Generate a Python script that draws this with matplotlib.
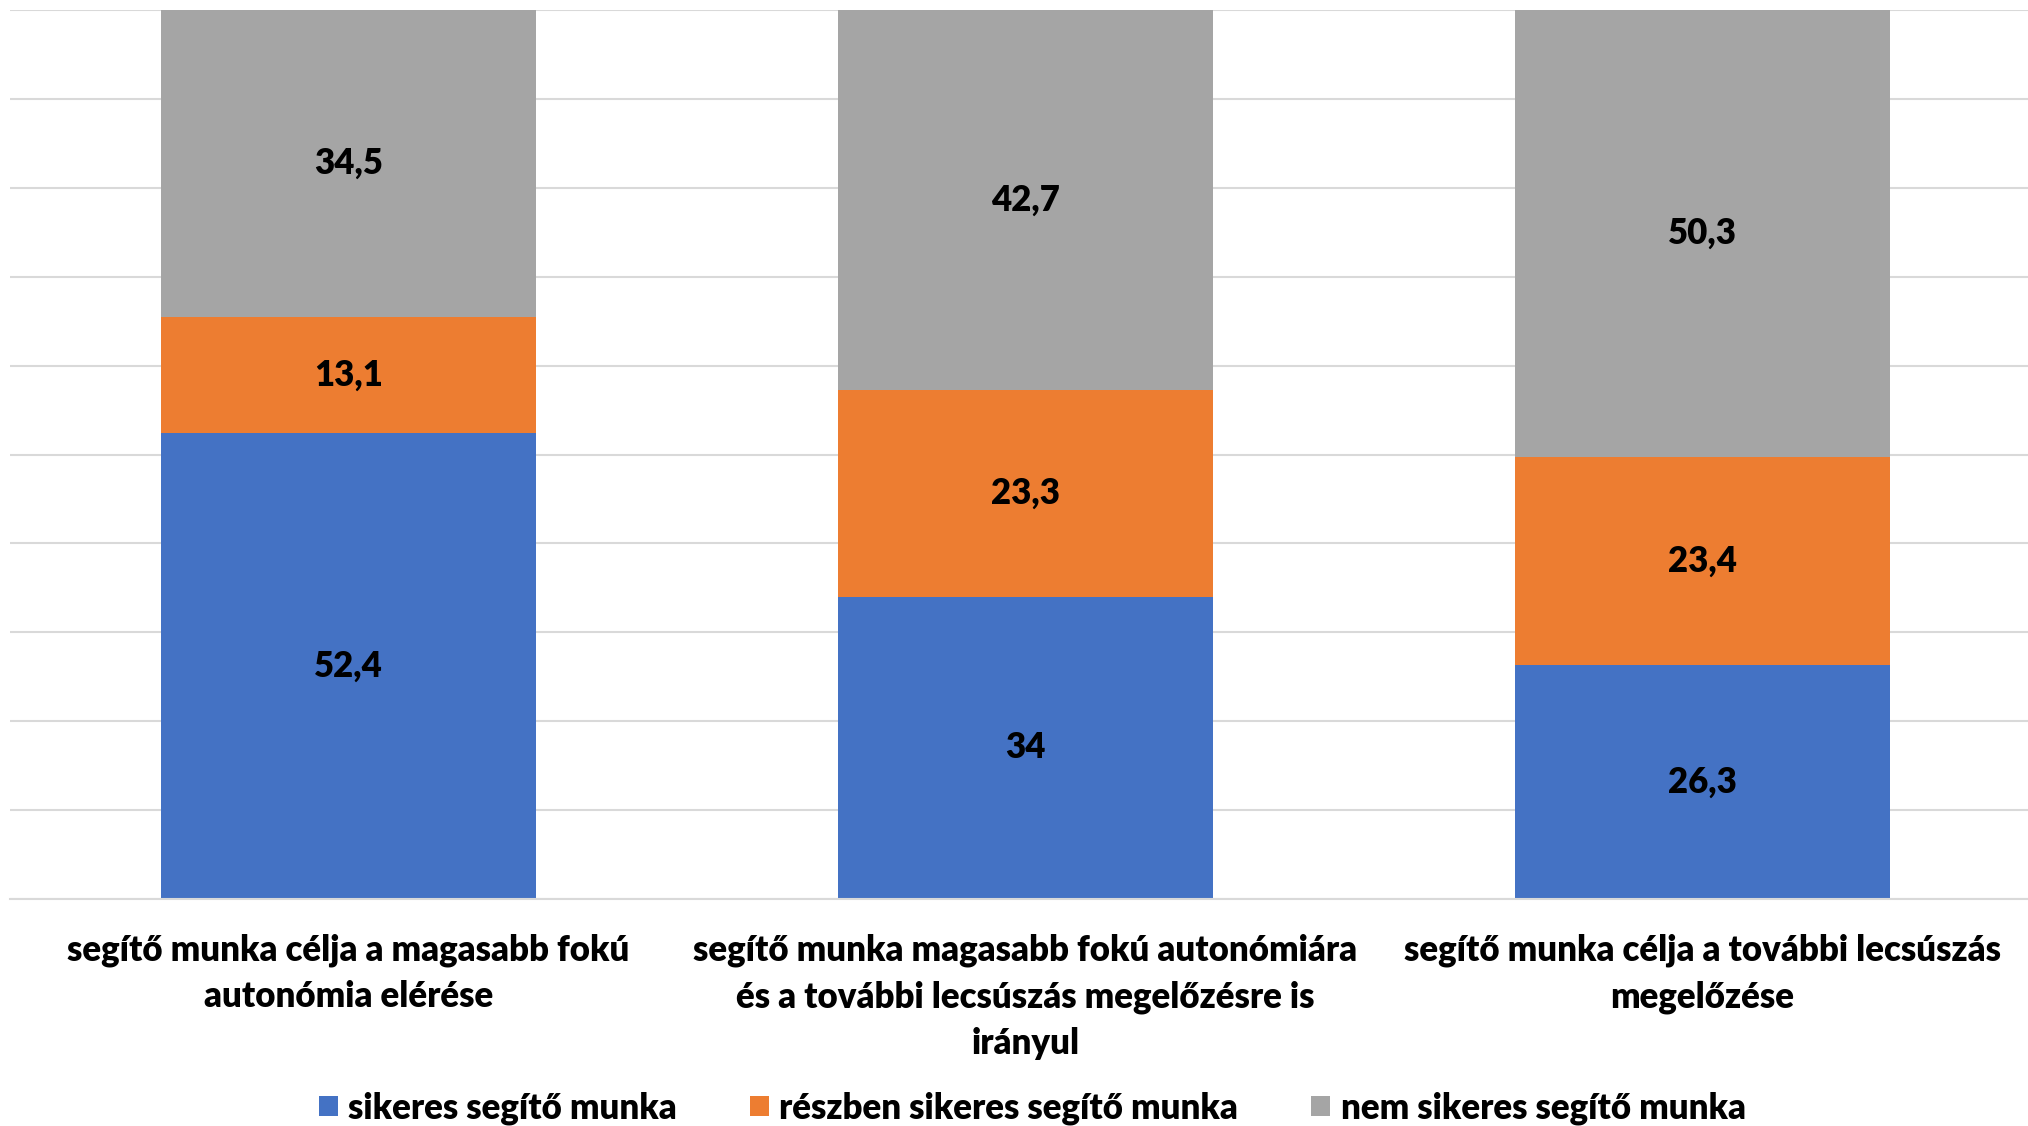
import matplotlib.pyplot as plt
import numpy as np

categories = [
    'segítő munka célja a magasabb fokú\nautonómia elérése',
    'segítő munka magasabb fokú autonómiára\nés a további lecsúszás megelőzésre is\nirányul',
    'segítő munka célja a további lecsúszás\nmegelőzése',
]
series_names = ['sikeres segítő munka', 'részben sikeres segítő munka', 'nem sikeres segítő munka']
sikeres = [52.4, 34, 26.3]
reszben = [13.1, 23.3, 23.4]
nem = [34.5, 42.7, 50.3]
colors = ['#4472C4', '#ED7D31', '#A5A5A5']

plt.rcParams['font.family'] = ['Lato', 'DejaVu Sans']
WT = 'heavy'

fig = plt.figure(figsize=(20.28, 11.26), dpi=100)
ax = fig.add_axes([10/2028, 227/1126, 2031/2028, 889/1126])

x = np.arange(len(categories))
w = 0.555
bottom = np.zeros(len(categories))
for vals, name, c in zip([sikeres, reszben, nem], series_names, colors):
    vals = np.array(vals, dtype=float)
    ax.bar(x, vals, w, bottom=bottom, color=c, label=name, zorder=2)
    for xi, b, v in zip(x, bottom, vals):
        lbl = ('%g' % v).replace('.', ',')
        ax.text(xi, b + v / 2, lbl, ha='center', va='center', fontsize=25,
                fontweight=WT, color='black', zorder=3)
    bottom += vals

ax.set_xlim(-0.5, 2.5)
ax.set_ylim(0, 100)
ax.set_yticks(np.arange(0, 101, 10))
ax.yaxis.grid(True, color='#D9D9D9', lw=1.5, zorder=0)
ax.tick_params(axis='y', left=False, labelleft=False)
ax.tick_params(axis='x', length=0, pad=25)
ax.set_xticks(x)
ax.set_xticklabels(categories, fontsize=25, fontweight=WT, linespacing=1.48)
for s in ['top', 'right', 'left']:
    ax.spines[s].set_visible(False)
ax.spines['bottom'].set_color('#D9D9D9')
ax.spines['bottom'].set_linewidth(1.5)

fig.legend(loc='center', bbox_to_anchor=(0.509, 1 - 1108/1126), ncol=3, frameon=False,
           handlelength=0.55, handleheight=0.55, handletextpad=0.3,
           columnspacing=2.1, prop={'weight': WT, 'size': 25})

fig.savefig('out.png', dpi=100)
